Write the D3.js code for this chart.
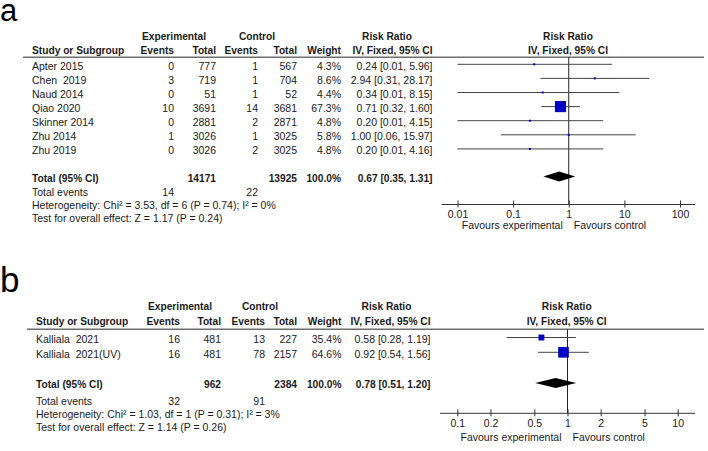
<!DOCTYPE html>
<html>
<head>
<meta charset="utf-8">
<script src="https://cdn.jsdelivr.net/npm/d3@7"></script>
<style>
  body { margin: 0; background: #fff; }
  svg text { font-family: "Liberation Sans", Arial, sans-serif; fill: #1a1a1a; white-space: pre; }
  .b { font-weight: bold; }
</style>
</head>
<body>
<svg id="chart" width="708" height="451"></svg>
<script>
// ---- panel a data ----
var studiesA   = ["Apter 2015", "Chen  2019", "Naud 2014", "Qiao 2020", "Skinner 2014", "Zhu 2014", "Zhu 2019"];
var expEventsA = [0, 3, 0, 10, 0, 1, 0];
var expTotalA  = [777, 719, 51, 3691, 2881, 3026, 3026];
var ctlEventsA = [1, 1, 1, 14, 2, 1, 2];
var ctlTotalA  = [567, 704, 52, 3681, 2871, 3025, 3025];
var weightA    = [4.3, 8.6, 4.4, 67.3, 4.8, 5.8, 4.8];
var rrA        = [0.24, 2.94, 0.34, 0.71, 0.20, 1.00, 0.20];
var lowA       = [0.01, 0.31, 0.01, 0.32, 0.01, 0.06, 0.01];
var highA      = [5.96, 28.17, 8.15, 1.60, 4.15, 15.97, 4.16];
var totalA     = { exp: 14171, ctl: 13925, expEv: 14, ctlEv: 22, rr: 0.67, low: 0.35, high: 1.31 };
var hetA       = "Heterogeneity: Chi\u00B2 = 3.53, df = 6 (P = 0.74); I\u00B2 = 0%";
var testA      = "Test for overall effect: Z = 1.17 (P = 0.24)";
var ticksA     = [0.01, 0.1, 1, 10, 100];
var tickLabelsA = ["0.01", "0.1", "1", "10", "100"];

// ---- panel b data ----
var studiesB   = ["Kalliala  2021", "Kalliala  2021(UV)"];
var expEventsB = [16, 16];
var expTotalB  = [481, 481];
var ctlEventsB = [13, 78];
var ctlTotalB  = [227, 2157];
var weightB    = [35.4, 64.6];
var rrB        = [0.58, 0.92];
var lowB       = [0.28, 0.54];
var highB      = [1.19, 1.56];
var totalB     = { exp: 962, ctl: 2384, expEv: 32, ctlEv: 91, rr: 0.78, low: 0.51, high: 1.20 };
var hetB       = "Heterogeneity: Chi\u00B2 = 1.03, df = 1 (P = 0.31); I\u00B2 = 3%";
var testB      = "Test for overall effect: Z = 1.14 (P = 0.26)";
var ticksB     = [0.1, 0.2, 0.5, 1, 2, 5, 10];
var tickLabelsB = ["0.1", "0.2", "0.5", "1", "2", "5", "10"];

var svg = d3.select("#chart");

function fmt(v){ return v.toFixed(2); }

function drawPanel(p){
    var g = svg.append("g");
    var fs = 10.5;

    // panel letter
    g.append("text").attr("x", p.letterX).attr("y", p.letterY)
        .style("font-size", p.letterSize + "px").style("fill", "#000").text(p.letter);

    // headers
    function hdr(x, y, t, anchor){
        g.append("text").attr("class", "b").attr("x", x).attr("y", y)
            .attr("text-anchor", anchor).style("font-size", "10.2px").text(t);
    }
    hdr(p.cols.expC, p.h1, "Experimental", "middle");
    hdr(p.cols.ctlC, p.h1, "Control", "middle");
    hdr(p.cols.rrC, p.h1, "Risk Ratio", "middle");
    hdr(p.plotC, p.h1, "Risk Ratio", "middle");
    hdr(p.cols.study, p.h2, "Study or Subgroup", "start");
    hdr(p.cols.expEv, p.h2, "Events", "end");
    hdr(p.cols.expTot, p.h2, "Total", "end");
    hdr(p.cols.ctlEv, p.h2, "Events", "end");
    hdr(p.cols.ctlTot, p.h2, "Total", "end");
    hdr(p.cols.weight, p.h2, "Weight", "end");
    hdr(p.cols.ci, p.h2, "IV, Fixed, 95% CI", "end");
    hdr(p.plotC, p.h2, "IV, Fixed, 95% CI", "middle");

    g.append("line").attr("x1", p.lineX0).attr("x2", 704)
        .attr("y1", p.lineY).attr("y2", p.lineY)
        .attr("stroke", "#6e6e6e").attr("stroke-width", 1.6);

    var x = d3.scaleLog().domain(p.domain).range(p.range);
    var y = function(i){ return p.row0 + i * p.rowStep; };
    var size = d3.scaleLinear().domain([0, 100]).range([0, 16.5]);

    // rows of the table
    p.studies.forEach(function(s, i){
        var yy = y(i) + 5.2;
        function cell(xx, t, anchor){
            g.append("text").attr("x", xx).attr("y", yy).attr("text-anchor", anchor)
                .style("font-size", fs + "px").text(t);
        }
        cell(p.cols.study, s, "start");
        cell(p.cols.expEv, p.expEvents[i], "end");
        cell(p.cols.expTot, p.expTotal[i], "end");
        cell(p.cols.ctlEv, p.ctlEvents[i], "end");
        cell(p.cols.ctlTot, p.ctlTotal[i], "end");
        cell(p.cols.weight, p.weight[i].toFixed(1) + "%", "end");
        cell(p.cols.ci, fmt(p.rr[i]) + " [" + fmt(p.low[i]) + ", " + fmt(p.high[i]) + "]", "end");
    });

    // reference line at 1
    g.append("line").attr("x1", x(1)).attr("x2", x(1))
        .attr("y1", p.lineY).attr("y2", p.axisY)
        .attr("stroke", "#222").attr("stroke-width", 1);

    // CI lines and squares
    p.studies.forEach(function(s, i){
        g.append("line").attr("x1", x(p.low[i])).attr("x2", x(p.high[i]))
            .attr("y1", y(i)).attr("y2", y(i))
            .attr("stroke", "#444").attr("stroke-width", 1);
        var w = Math.max(2, size(p.weight[i]));
        g.append("rect").attr("x", x(p.rr[i]) - w / 2).attr("y", y(i) - w / 2)
            .attr("width", w).attr("height", w).attr("fill", "#0000c4");
    });

    // total row
    var t = p.total, ty = p.totalY;
    function tcell(xx, yy, txt, anchor, bold){
        g.append("text").attr("x", xx).attr("y", yy).attr("text-anchor", anchor)
            .attr("class", bold ? "b" : null)
            .style("font-size", (bold ? 10.2 : fs) + "px").text(txt);
    }
    tcell(p.cols.study, ty + 5.2, "Total (95% CI)", "start", true);
    tcell(p.cols.expTot, ty + 5.2, t.exp, "end", true);
    tcell(p.cols.ctlTot, ty + 5.2, t.ctl, "end", true);
    tcell(p.cols.weight, ty + 5.2, "100.0%", "end", true);
    tcell(p.cols.ci, ty + 5.2, fmt(t.rr) + " [" + fmt(t.low) + ", " + fmt(t.high) + "]", "end", true);
    tcell(p.cols.study, p.evY, "Total events", "start", false);
    tcell(p.cols.expEv, p.evY, t.expEv, "end", false);
    tcell(p.cols.ctlEv, p.evY, t.ctlEv, "end", false);
    tcell(p.cols.study, p.evY + 12.8, p.het, "start", false);
    tcell(p.cols.study, p.evY + 25.6, p.test, "start", false);

    g.append("path")
        .attr("d", "M" + x(t.low) + "," + ty + "L" + x(t.rr) + "," + (ty - 5) +
            "L" + x(t.high) + "," + ty + "L" + x(t.rr) + "," + (ty + 5) + "Z")
        .attr("fill", "#000");

    // axis
    g.append("line").attr("x1", p.axisX0).attr("x2", 695)
        .attr("y1", p.axisY).attr("y2", p.axisY)
        .attr("stroke", "#333").attr("stroke-width", 1);
    var ax = g.append("g").attr("transform", "translate(0," + p.axisY + ")")
        .call(d3.axisBottom(x).tickValues(p.ticks)
            .tickFormat(function(d, i){ return p.tickLabels[i]; })
            .tickSizeOuter(0).tickSize(3).tickPadding(3));
    ax.select(".domain").remove();
    ax.selectAll(".tick line").attr("y1", -4).attr("stroke", "#333");
    ax.selectAll(".tick text").style("font-family", "Liberation Sans, Arial, sans-serif")
        .style("font-size", "10.5px").attr("fill", "#1a1a1a");

    g.append("text").attr("x", x(1) - 6).attr("y", p.favY).attr("text-anchor", "end")
        .style("font-size", fs + "px").text("Favours experimental");
    g.append("text").attr("x", x(1) + 5).attr("y", p.favY).attr("text-anchor", "start")
        .style("font-size", fs + "px").text("Favours control");
}

drawPanel({
    letter: "a", letterX: 0, letterY: 21, letterSize: 31,
    studies: studiesA, expEvents: expEventsA, expTotal: expTotalA, ctlEvents: ctlEventsA,
    ctlTotal: ctlTotalA, weight: weightA, rr: rrA, low: lowA, high: highA, total: totalA,
    het: hetA, test: testA, ticks: ticksA, tickLabels: tickLabelsA,
    cols: { study: 32, expEv: 174, expTot: 216, ctlEv: 258, ctlTot: 297, weight: 341, ci: 432.5,
            expC: 174, ctlC: 257, rrC: 387 },
    plotC: 568, h1: 39.5, h2: 54.3, lineX0: 23, lineY: 57.3,
    row0: 64.3, rowStep: 14.1, totalY: 176.5, evY: 196,
    domain: [0.01, 100], range: [457.5, 680], axisX0: 441.7, axisY: 204.5, favY: 229
});

drawPanel({
    letter: "b", letterX: 0, letterY: 291.5, letterSize: 35,
    studies: studiesB, expEvents: expEventsB, expTotal: expTotalB, ctlEvents: ctlEventsB,
    ctlTotal: ctlTotalB, weight: weightB, rr: rrB, low: lowB, high: highB, total: totalB,
    het: hetB, test: testB, ticks: ticksB, tickLabels: tickLabelsB,
    cols: { study: 36, expEv: 180, expTot: 221, ctlEv: 265, ctlTot: 297, weight: 341.5, ci: 430.5,
            expC: 180, ctlC: 260, rrC: 386.5 },
    plotC: 566.7, h1: 309.5, h2: 324.5, lineX0: 27, lineY: 329.3,
    row0: 337.5, rowStep: 14.8, totalY: 383, evY: 405,
    domain: [0.1, 10], range: [457.3, 677.7], axisX0: 440, axisY: 413.3, favY: 440.5
});
</script>
</body>
</html>
